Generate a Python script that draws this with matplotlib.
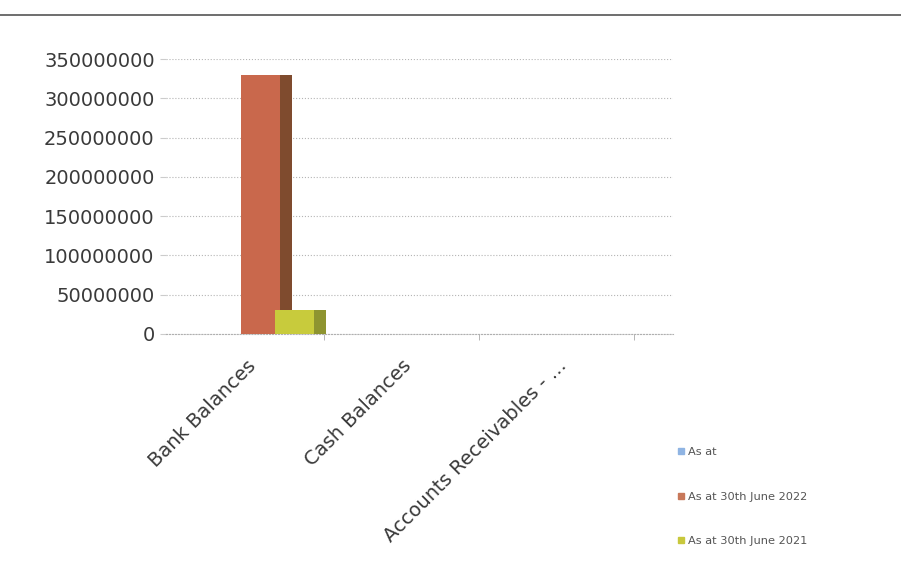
import matplotlib.pyplot as plt
from matplotlib.lines import Line2D

categories = ['Bank Balances', 'Cash Balances', 'Accounts Receivables - ...']
series_names = ['As at', 'As at 30th June 2022', 'As at 30th June 2021']
as_at = [0, 0, 0]
june_2022 = [330000000, 0, 0]
june_2021 = [30000000, 0, 0]
yticks = [0, 50000000, 100000000, 150000000, 200000000, 250000000, 300000000, 350000000]

front = ['#8fb4e3', '#c9684c', '#c8cb3c']
side = ['#5f7fa8', '#7f4b2e', '#8e9430']
legend_col = ['#8fb4e3', '#c8785a', '#c8c83c']

fig = plt.figure(figsize=(9.01, 5.62), dpi=100)
ax = fig.add_axes([0.184, 0.4057, 0.563, 0.4893])

x = list(range(len(categories)))
w = 0.25
depth = 0.08
offsets = [-0.13, 0.09, 0.31]
for i, vals in enumerate([as_at, june_2022, june_2021]):
    xs = [c + offsets[i] for c in x]
    ax.bar(xs, vals, width=w, color=front[i], zorder=3 + 2 * i)
    # darker side face for the 3d look
    ax.bar([v + w / 2 for v in xs], vals, width=depth, align='edge',
           color=side[i], zorder=4 + 2 * i)

ax.set_xlim(-0.52, 2.75)
ax.set_ylim(0, 350000000)
ax.set_yticks(yticks)
ax.set_yticklabels([str(v) for v in yticks], fontsize=14, color='#3a3a3a')
ax.tick_params(axis='y', length=4, color='#cccccc', pad=4)
ax.set_xticks(x)
ax.set_xticklabels(categories, rotation=45, ha='right', rotation_mode='anchor',
                   fontsize=14, color='#3a3a3a')
ax.tick_params(axis='x', length=0, pad=16)
ax.set_xticks([0.5, 1.5, 2.5], minor=True)
ax.tick_params(axis='x', which='minor', length=4, color='#aaaaaa')

ax.grid(axis='y', linestyle=':', color='#b5b5b5', linewidth=0.8, zorder=0)
for s in ['top', 'right', 'left']:
    ax.spines[s].set_visible(False)
ax.spines['bottom'].set_color('#b0b0b0')
ax.spines['bottom'].set_linestyle(':')

handles = [Line2D([], [], marker='s', linestyle='none', markersize=4.5,
                  color=c) for c in legend_col]
fig.legend(handles, series_names, loc='upper left',
           bbox_to_anchor=(0.738, 0.222), frameon=False, fontsize=8.2,
           labelspacing=3.0, handletextpad=0.1, handlelength=1.0,
           labelcolor='#555555')

fig.add_artist(Line2D([0.0, 1.0], [1 - 15 / 562, 1 - 15 / 562],
                      color='#555555', linewidth=1.2))

fig.savefig('out.png', dpi=100, facecolor='white')
